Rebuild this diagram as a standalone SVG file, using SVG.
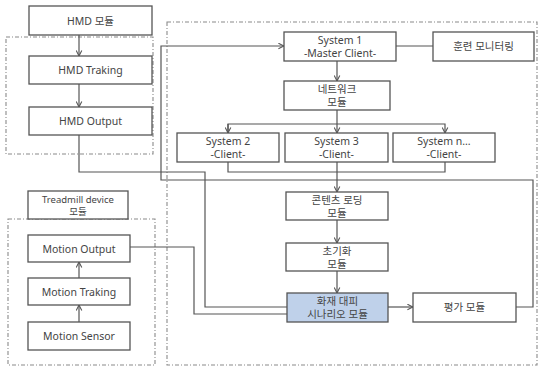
<svg xmlns="http://www.w3.org/2000/svg" width="539" height="369" viewBox="0 0 539 369">
<defs>
<style>
.box{fill:#fff;stroke:#555;stroke-width:1.3}
.hl{fill:#bfd1ea;stroke:#555;stroke-width:1.3}
.grp{fill:none;stroke:#8a8a8a;stroke-width:1.1;stroke-dasharray:4 2 1 2}
.c{fill:none;stroke:#555;stroke-width:1.2}
text{font-family:"Noto Sans","Noto Sans CJK KR",sans-serif;font-size:10.5px;fill:#444;text-anchor:middle}
.s{font-size:9.5px}
</style>
<marker id="ah" viewBox="0 0 10 10" refX="9" refY="5" markerWidth="7" markerHeight="7" orient="auto" markerUnits="userSpaceOnUse">
<path d="M1,1 L9,5 L1,9" fill="none" stroke="#555" stroke-width="1.5"/>
</marker>
</defs>
<rect width="539" height="369" fill="#fff"/>

<g id="groups">
<rect class="grp" x="6" y="37" width="147" height="117"/>
<rect class="grp" x="8" y="219" width="147" height="146"/>
<rect class="grp" x="167" y="22" width="370" height="343"/>
</g>

<g id="connectors">
<line class="c" x1="79" y1="35" x2="79" y2="56" marker-end="url(#ah)"/>
<line class="c" x1="79" y1="84" x2="79" y2="107" marker-end="url(#ah)"/>
<line class="c" x1="79" y1="322" x2="79" y2="305" marker-end="url(#ah)"/>
<line class="c" x1="79" y1="278" x2="79" y2="262" marker-end="url(#ah)"/>
<polyline class="c" points="516,307 533,307 533,180 161,180 161,46 284,46" marker-end="url(#ah)"/>
<line class="c" x1="396" y1="46" x2="433" y2="46"/>
<line class="c" x1="337" y1="61" x2="337" y2="81" marker-end="url(#ah)"/>
<polyline class="c" points="337,110 337,124"/>
<polyline class="c" points="228,133 228,124 445,124 445,133" marker-end="url(#ah)"/>
<line class="c" x1="228" y1="124" x2="228" y2="133" marker-end="url(#ah)"/>
<line class="c" x1="337" y1="124" x2="337" y2="133" marker-end="url(#ah)"/>
<polyline class="c" points="228,162 228,172 445,172 445,162"/>
<line class="c" x1="337" y1="162" x2="337" y2="192" marker-end="url(#ah)"/>
<line class="c" x1="337" y1="220" x2="337" y2="243" marker-end="url(#ah)"/>
<line class="c" x1="337" y1="271" x2="337" y2="293" marker-end="url(#ah)"/>
<line class="c" x1="388" y1="307" x2="413" y2="307" marker-end="url(#ah)"/>
<polyline class="c" points="79,135 79,172 205,172 205,307 287,307"/>
<polyline class="c" points="130,247 194,247 194,314 287,314"/>
</g>

<g id="hmd-module"><rect class="box" x="29" y="6" width="123" height="29"/><text x="90.5" y="24.5">HMD 모듈</text></g>
<g id="hmd-traking"><rect class="box" x="29" y="56" width="123" height="28"/><text x="90.5" y="74">HMD Traking</text></g>
<g id="hmd-output"><rect class="box" x="29" y="107" width="123" height="28"/><text x="90.5" y="125">HMD Output</text></g>

<g id="treadmill"><rect class="box" x="28" y="191" width="100" height="28"/><text class="s" x="78" y="202.5">Treadmill device</text><text class="s" x="78" y="215">모듈</text></g>
<g id="motion-output"><rect class="box" x="28" y="235" width="102" height="27"/><text x="79" y="252.5">Motion Output</text></g>
<g id="motion-traking"><rect class="box" x="28" y="278" width="102" height="27"/><text x="79" y="295.5">Motion Traking</text></g>
<g id="motion-sensor"><rect class="box" x="28" y="322" width="102" height="28"/><text x="79" y="340">Motion Sensor</text></g>

<g id="system1"><rect class="box" x="284" y="32" width="112" height="29"/><text x="340" y="44">System 1</text><text x="340" y="57">-Master Client-</text></g>
<g id="monitoring"><rect class="box" x="433" y="32" width="101" height="29"/><text x="483.5" y="50">훈련 모니터링</text></g>
<g id="network"><rect class="box" x="284" y="81" width="106" height="29"/><text x="337" y="93">네트워크</text><text x="337" y="106">모듈</text></g>
<g id="system2"><rect class="box" x="177" y="133" width="102" height="29"/><text x="228" y="145">System 2</text><text x="228" y="158">-Client-</text></g>
<g id="system3"><rect class="box" x="285" y="133" width="103" height="29"/><text x="336.5" y="145">System 3</text><text x="336.5" y="158">-Client-</text></g>
<g id="systemn"><rect class="box" x="393" y="133" width="102" height="29"/><text x="444" y="145">System n...</text><text x="444" y="158">-Client-</text></g>
<g id="content-loading"><rect class="box" x="286" y="192" width="102" height="28"/><text x="337" y="204">콘텐츠 로딩</text><text x="337" y="217">모듈</text></g>
<g id="init"><rect class="box" x="286" y="243" width="102" height="28"/><text x="337" y="255">초기화</text><text x="337" y="268">모듈</text></g>
<g id="fire-scenario"><rect class="hl" x="287" y="293" width="101" height="29"/><text x="337.5" y="305">화재 대피</text><text x="337.5" y="318">시나리오 모듈</text></g>
<g id="evaluation"><rect class="box" x="413" y="293" width="103" height="29"/><text x="464.5" y="311">평가 모듈</text></g>
</svg>
